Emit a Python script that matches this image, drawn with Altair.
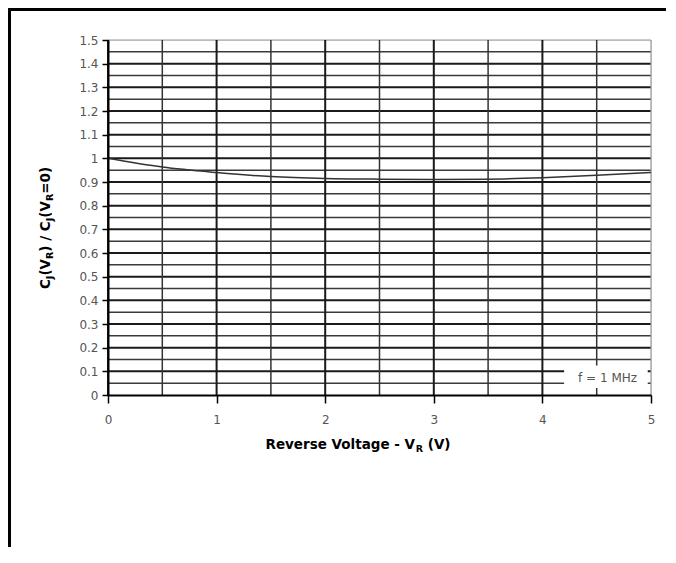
import altair as alt
import pandas as pd

# ---- data ----
voltage = [0, 0.5, 1, 1.5, 2, 2.5, 3, 3.5, 4, 4.5, 5]
cap_ratio = [1.0, 0.963, 0.94, 0.923, 0.915, 0.912, 0.911, 0.912, 0.918, 0.928, 0.94]

x_ticks = [0, 1, 2, 3, 4, 5]
x_grid_major = [0, 1, 2, 3, 4]
x_grid_minor = [0.5, 1.5, 2.5, 3.5, 4.5]
x_grid_edge = [5]
y_ticks = [0.0, 0.1, 0.2, 0.3, 0.4, 0.5, 0.6, 0.7, 0.8, 0.9, 1.0,
           1.1, 1.2, 1.3, 1.4, 1.5]
y_grid_major = [0.1, 0.2, 0.3, 0.4, 0.5, 0.6, 0.7, 0.8, 0.9, 1.0,
                1.1, 1.2, 1.3, 1.4]
y_grid_minor = [0.05, 0.15, 0.25, 0.35, 0.45, 0.55, 0.65, 0.75, 0.85,
                0.95, 1.05, 1.15, 1.25, 1.35, 1.45]
y_grid_edge = [1.5]

note_text = ["f = 1 MHz"]
note_x = [4.6]
note_y = [0.072]
note_box_x = [4.2]
note_box_x2 = [4.97]
note_box_y = [0.03]
note_box_y2 = [0.125]

W, H = 543, 355
FONT = "DejaVu Sans"

xs = alt.Scale(domain=[0, 5], nice=False)
ys = alt.Scale(domain=[0, 1.5], nice=False)

x_axis = alt.Axis(values=x_ticks, title=None, grid=False, tickSize=8,
                  tickColor="black", tickWidth=1.5, domainColor="black",
                  domainWidth=2, labelFont=FONT, labelFontSize=12,
                  labelColor="#555555", labelPadding=11, format="d",
                  labelFlush=False, labelOverlap=False, zindex=1)
y_axis = alt.Axis(values=y_ticks, title=None, grid=False, tickSize=6,
                  tickColor="black", tickWidth=1.5, domainColor="black",
                  domainWidth=2, labelFont=FONT, labelFontSize=12,
                  labelColor="#555555", labelPadding=4, format=".1~f",
                  labelFlush=False, labelOverlap=False, zindex=1)

curve_df = pd.DataFrame({"v": voltage, "c": cap_ratio})


def vrules(vals, color, width):
    return alt.Chart(pd.DataFrame({"v": vals})).mark_rule(
        color=color, strokeWidth=width).encode(x=alt.X("v:Q", scale=xs, axis=x_axis))


def hrules(vals, color, width):
    return alt.Chart(pd.DataFrame({"v": vals})).mark_rule(
        color=color, strokeWidth=width).encode(y=alt.Y("v:Q", scale=ys, axis=y_axis))


grid = [
    hrules(y_grid_minor, "#3a3a3a", 1.5),
    hrules(y_grid_major, "#1a1a1a", 2),
    hrules(y_grid_edge, "#999999", 1.2),
    vrules(x_grid_minor, "#333333", 1.5),
    vrules(x_grid_major, "#1a1a1a", 2),
    vrules(x_grid_edge, "#999999", 1.2),
]

box = alt.Chart(pd.DataFrame({"x": note_box_x, "x2": note_box_x2,
                              "y": note_box_y, "y2": note_box_y2})).mark_rect(
    color="white").encode(
    x=alt.X("x:Q", scale=xs, axis=x_axis), x2="x2:Q",
    y=alt.Y("y:Q", scale=ys, axis=y_axis), y2="y2:Q")

note = alt.Chart(pd.DataFrame({"x": note_x, "y": note_y, "t": note_text})).mark_text(
    font=FONT, fontSize=12, color="#555555", align="center", baseline="middle").encode(
    x=alt.X("x:Q", scale=xs, axis=x_axis), y=alt.Y("y:Q", scale=ys, axis=y_axis),
    text="t:N")

curve = alt.Chart(curve_df).mark_line(
    color="#333333", strokeWidth=1.5, interpolate="monotone").encode(
    x=alt.X("v:Q", scale=xs, axis=x_axis),
    y=alt.Y("c:Q", scale=ys, axis=y_axis),
)

# ---- composed axis titles with subscripts ----
EM = {" ": .348, "(": .456, ")": .456, "-": .416, "/": .365, "0": .696, "=": .838,
      "C": .736, "J": .372, "R": .770, "V": .774, "a": .675, "e": .678, "g": .716,
      "l": .343, "o": .687, "r": .493, "s": .595, "t": .478, "v": .650}
MAIN, SUB = 13.5, 9.5


def width(s, size):
    return sum(EM.get(ch, 0.65) for ch in s) * size


def title_layers(segments, x0, y0, vertical):
    total = sum(width(s, SUB if sub else MAIN) for s, sub in segments)
    layers = []
    off = -total / 2
    for s, sub in segments:
        size = SUB if sub else MAIN
        shift = 3 if sub else 0
        lead = len(s) - len(s.lstrip(" "))
        start = off + width(" " * lead, size)
        if vertical:
            xv, yv, ang = x0 + shift, y0 - start, 270
        else:
            xv, yv, ang = x0 + start, y0 + shift, 0
        layers.append(
            alt.Chart(pd.DataFrame({"t": [s.strip(" ")]})).mark_text(
                font=FONT, fontSize=size, fontWeight="bold", color="black",
                align="left", baseline="alphabetic", angle=ang).encode(
                x=alt.value(xv), y=alt.value(yv), text="t:N"))
        off += width(s, size)
    return layers


x_title = title_layers([("Reverse Voltage - V", False), ("R", True), (" (V)", False)],
                       250, 409, False)
y_title = title_layers([("C", False), ("J", True), ("(V", False), ("R", True),
                        (") / C", False), ("J", True), ("(V", False), ("R", True),
                        ("=0)", False)], -58, 188, True)

# ---- frame lines of the figure (top and left) ----
frame_top = alt.Chart(pd.DataFrame({"a": [0]})).mark_rule(
    color="black", strokeWidth=3).encode(
    x=alt.value(-100), x2=alt.value(W + 15), y=alt.value(-30.5))
frame_left = alt.Chart(pd.DataFrame({"a": [0]})).mark_rule(
    color="black", strokeWidth=3).encode(
    x=alt.value(-98.5), y=alt.value(-32), y2=alt.value(H + 152))

chart = alt.layer(*grid, box, note, curve, *x_title, *y_title, frame_top, frame_left).properties(
    width=W, height=H,
    autosize=alt.AutoSizeParams(type="none"),
    padding={"left": 100, "top": 32, "right": 15, "bottom": 152},
).configure_view(stroke=None).configure(background="white")

chart.save("out.html", embed_options={"renderer": "svg", "actions": False})
